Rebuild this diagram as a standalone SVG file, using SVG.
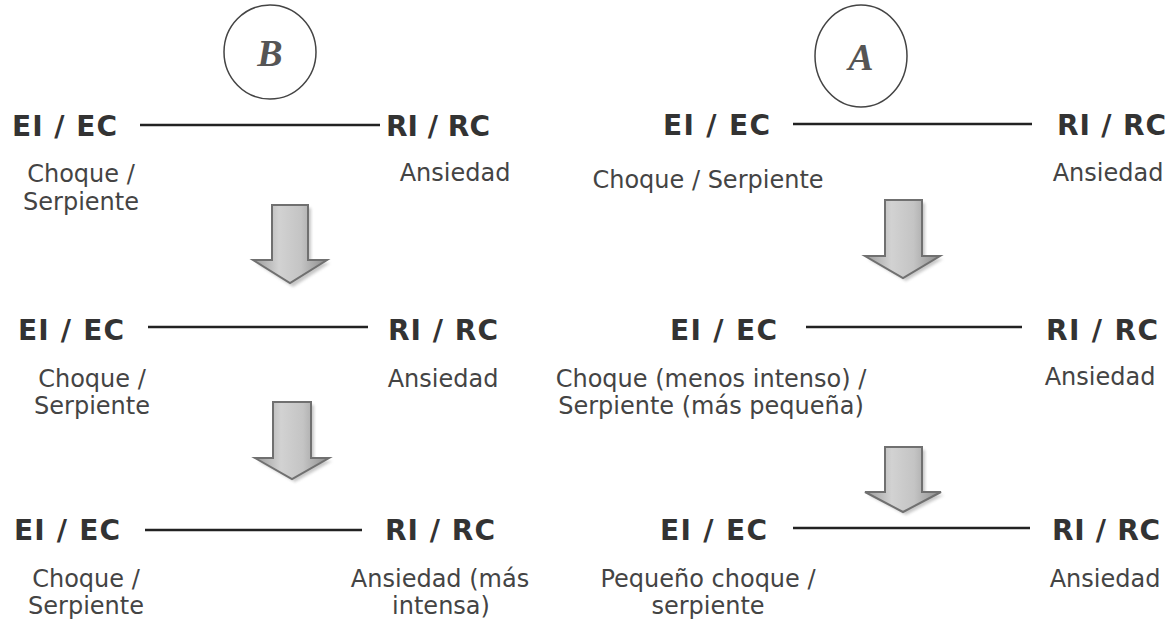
<svg xmlns="http://www.w3.org/2000/svg" width="1170" height="621" viewBox="0 0 1170 621">
<style>
.lbl{font-family:"DejaVu Sans","Verdana",sans-serif;font-weight:bold;font-size:28px;fill:#333}
.txt{font-family:"DejaVu Sans","Verdana",sans-serif;font-size:24px;fill:#444;text-anchor:middle}
.circ{fill:#fff;stroke:#444;stroke-width:1.5}
.let{font-family:"Liberation Serif","Times New Roman",serif;font-weight:bold;font-style:italic;font-size:38px;fill:#555;text-anchor:middle}
.link{stroke:#222;stroke-width:2.3;fill:none}
.arrow{fill:url(#ag);stroke:#707070;stroke-width:2;stroke-linejoin:miter}
.shadow{fill:#999;opacity:0.55;filter:url(#blur)}
</style>
<defs>
<linearGradient id="ag" x1="0" y1="0" x2="1" y2="0">
<stop offset="0" stop-color="#9a9a9a"/>
<stop offset="0.35" stop-color="#d2d2d2"/>
<stop offset="0.65" stop-color="#c4c4c4"/>
<stop offset="1" stop-color="#8a8a8a"/>
</linearGradient>
<filter id="blur" x="-20%" y="-20%" width="140%" height="140%"><feGaussianBlur stdDeviation="1.5"/></filter>
</defs>
<rect width="1170" height="621" fill="#fff"/>

<g id="connectors">
<line class="link" x1="140" y1="125" x2="380" y2="125"/>
<line class="link" x1="148" y1="327" x2="368" y2="327"/>
<line class="link" x1="145" y1="530" x2="362" y2="530"/>
<line class="link" x1="793" y1="124" x2="1032" y2="124"/>
<line class="link" x1="806" y1="327" x2="1022" y2="327"/>
<line class="link" x1="793" y1="528" x2="1030" y2="528"/>
</g>

<g id="arrows">
<path class="shadow" d="M275,208 H311 V263 H330 L293,287 L256,263 H275 Z"/>
<path class="arrow" d="M272,205 H308 V260 H327 L290,283 L253,260 H272 Z"/>
<path class="shadow" d="M276,405 H314 V461 H332 L295,482 L258,461 H276 Z"/>
<path class="arrow" d="M273,402 H311 V458 H329 L292,479 L255,458 H273 Z"/>
<path class="shadow" d="M888,203 H925 V259 H943 L906,281 L868,259 H888 Z"/>
<path class="arrow" d="M885,200 H922 V256 H940 L903,278 L865,256 H885 Z"/>
<path class="shadow" d="M888,450 H925 V495 H944 L906,515 L868,495 H888 Z"/>
<path class="arrow" d="M885,447 H922 V492 H941 L903,512 L865,492 H885 Z"/>
</g>

<g id="circleB">
<ellipse class="circ" cx="270" cy="52" rx="46" ry="47"/>
<text class="let" x="270" y="66">B</text>
</g>
<g id="circleA">
<ellipse class="circ" cx="861" cy="56" rx="46" ry="51"/>
<text class="let" x="861" y="70">A</text>
</g>

<g id="B1-EI"><text class="lbl" x="12" y="136" textLength="105" lengthAdjust="spacing">EI / EC</text>
<text class="txt" x="81" y="182">Choque /</text><text class="txt" x="81" y="210">Serpiente</text></g>
<g id="B1-RI"><text class="lbl" x="386" y="136" textLength="104" lengthAdjust="spacing">RI / RC</text>
<text class="txt" x="455" y="181">Ansiedad</text></g>

<g id="B2-EI"><text class="lbl" x="18" y="340" textLength="106" lengthAdjust="spacing">EI / EC</text>
<text class="txt" x="92" y="387">Choque /</text><text class="txt" x="92" y="414">Serpiente</text></g>
<g id="B2-RI"><text class="lbl" x="388" y="340" textLength="110" lengthAdjust="spacing">RI / RC</text>
<text class="txt" x="443" y="387">Ansiedad</text></g>

<g id="B3-EI"><text class="lbl" x="14" y="540" textLength="106" lengthAdjust="spacing">EI / EC</text>
<text class="txt" x="86" y="587">Choque /</text><text class="txt" x="86" y="614">Serpiente</text></g>
<g id="B3-RI"><text class="lbl" x="385" y="540" textLength="110" lengthAdjust="spacing">RI / RC</text>
<text class="txt" x="440" y="587">Ansiedad (más</text><text class="txt" x="441" y="614">intensa)</text></g>

<g id="A1-EI"><text class="lbl" x="663" y="135" textLength="107" lengthAdjust="spacing">EI / EC</text>
<text class="txt" x="708" y="188">Choque / Serpiente</text></g>
<g id="A1-RI"><text class="lbl" x="1057" y="135" textLength="109" lengthAdjust="spacing">RI / RC</text>
<text class="txt" x="1108" y="181">Ansiedad</text></g>

<g id="A2-EI"><text class="lbl" x="670" y="340" textLength="107" lengthAdjust="spacing">EI / EC</text>
<text class="txt" x="711" y="387">Choque (menos intenso) /</text><text class="txt" x="711" y="414">Serpiente (más pequeña)</text></g>
<g id="A2-RI"><text class="lbl" x="1046" y="340" textLength="112" lengthAdjust="spacing">RI / RC</text>
<text class="txt" x="1100" y="385">Ansiedad</text></g>

<g id="A3-EI"><text class="lbl" x="660" y="540" textLength="107" lengthAdjust="spacing">EI / EC</text>
<text class="txt" x="708" y="587">Pequeño choque /</text><text class="txt" x="708" y="614">serpiente</text></g>
<g id="A3-RI"><text class="lbl" x="1052" y="540" textLength="108" lengthAdjust="spacing">RI / RC</text>
<text class="txt" x="1105" y="587">Ansiedad</text></g>
</svg>
